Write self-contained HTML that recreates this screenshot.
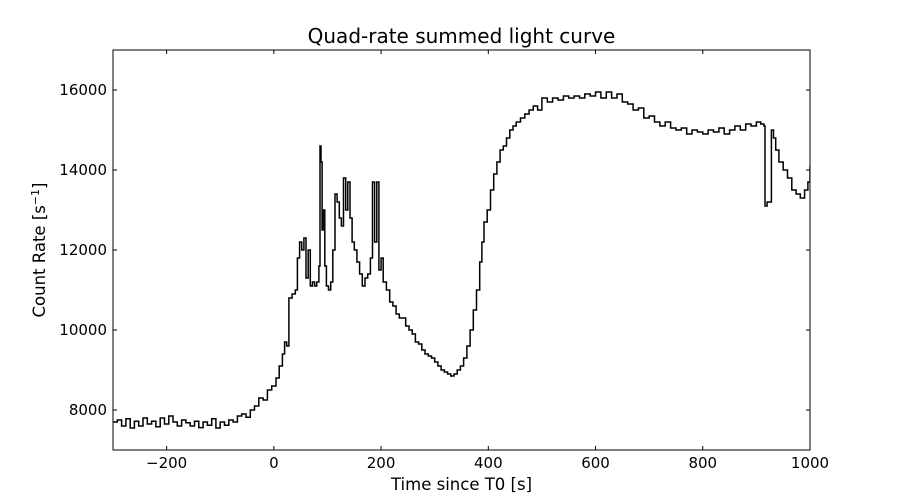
<!DOCTYPE html>
<html><head><meta charset="utf-8"><style>
body{margin:0;background:#fff}
svg{display:block;font-family:"DejaVu Sans","Liberation Sans",sans-serif}
</style></head><body>
<svg id="c" width="900" height="500"></svg>
<script>
const times=[-300,-292,-284,-276,-268,-260,-252,-244,-236,-228,-220,-212,-204,-196,-188,-180,-172,-164,-156,-148,-140,-132,-124,-116,-108,-100,-92,-84,-76,-68,-60,-52,-44,-36,-28,-20,-12,-4,4,10,16,20,24,28,34,40,44,48,52,56,60,64,68,72,76,80,84,86,88,90,92,95,98,102,106,110,114,118,122,126,130,134,138,142,146,150,155,160,165,170,175,180,184,188,192,196,200,204,210,216,222,228,234,240,246,252,258,264,270,276,282,288,294,300,306,312,318,324,330,336,342,348,354,360,366,372,378,384,388,392,398,404,410,416,422,428,434,440,446,452,460,468,476,484,492,500,510,520,530,540,550,560,570,580,590,600,610,620,630,640,650,660,670,680,690,700,710,720,730,740,750,760,770,780,790,800,810,820,830,840,850,860,870,880,890,900,908,914,916,920,926,928,932,936,942,950,958,966,974,982,990,996,1000];
const rates=[7700,7750,7600,7780,7550,7720,7600,7800,7650,7720,7580,7800,7650,7850,7700,7600,7750,7680,7600,7720,7560,7700,7620,7780,7550,7700,7620,7750,7700,7850,7900,7820,8000,8100,8300,8250,8500,8600,8800,9100,9400,9700,9600,10800,10900,11000,11800,12200,12000,12300,11300,12000,11100,11200,11100,11200,11600,14600,14200,12500,13000,11600,11100,11000,11200,12000,13400,13200,12800,12600,13800,13000,13700,12800,12200,12000,11700,11400,11100,11300,11400,11800,13700,12200,13700,11500,11800,11200,11000,10700,10600,10400,10300,10300,10100,10000,9900,9700,9650,9500,9400,9350,9300,9200,9100,9000,8950,8900,8850,8900,9000,9100,9300,9600,10000,10500,11000,11700,12200,12700,13000,13500,13900,14200,14500,14600,14800,15000,15100,15200,15300,15400,15500,15600,15500,15800,15700,15800,15750,15850,15800,15850,15800,15900,15850,15950,15800,15950,15800,15900,15700,15650,15500,15550,15300,15350,15200,15100,15200,15050,15000,15050,14900,15000,14950,14900,15000,14950,15050,14900,15000,15100,15000,15150,15100,15200,15150,15100,13100,13200,13200,15000,14800,14500,14200,14000,13800,13500,13400,13300,13500,13700,14100];
const xTicks=[-200,0,200,400,600,800,1000];
const yTicks=[8000,10000,12000,14000,16000];
const L=113,R=810,T=50,B=450,xmin=-300,xmax=1000,ymin=7000,ymax=17000;
const sx=v=>L+(v-xmin)/(xmax-xmin)*(R-L);
const sy=v=>B-(v-ymin)/(ymax-ymin)*(B-T);
const svg=document.getElementById('c');const NS='http://www.w3.org/2000/svg';
function mk(tag,attrs,txt){const e=document.createElementNS(NS,tag);for(const k in attrs)e.setAttribute(k,attrs[k]);if(txt!==undefined)e.textContent=txt;svg.appendChild(e);return e;}
let d='';
for(let i=0;i<times.length;i++){const x=sx(times[i]),y=sy(rates[i]);
 if(i===0)d+='M'+x.toFixed(1)+' '+y.toFixed(1);else d+='V'+y.toFixed(1);
 const xn=i<times.length-1?sx(times[i+1]):x;d+='H'+xn.toFixed(1);}
const line=mk('path',{d:d,fill:'none',stroke:'#000','stroke-width':1.5,'clip-path':'url(#cp)'});


const defs=document.createElementNS(NS,'defs');defs.innerHTML='<clipPath id="cp"><rect x="113" y="50" width="697" height="400"/></clipPath>';svg.insertBefore(defs,svg.firstChild);
const frame=mk('rect',{x:L,y:T,width:R-L,height:B-T,fill:'none',stroke:'#000','stroke-width':1});


xTicks.forEach(v=>{const x=sx(v);mk('line',{x1:x,x2:x,y1:B,y2:B-4,stroke:'#000'});mk('line',{x1:x,x2:x,y1:T,y2:T+4,stroke:'#000'});
 const t=mk('text',{x:x,y:468,'text-anchor':'middle','font-size':15},v<0?'\u2212'+(-v):String(v));
 
 });
yTicks.forEach(v=>{const y=sy(v);mk('line',{x1:L,x2:L+4,y1:y,y2:y,stroke:'#000'});mk('line',{x1:R,x2:R-4,y1:y,y2:y,stroke:'#000'});
 const t=mk('text',{x:107,y:y+5,'text-anchor':'end','font-size':15},String(v));
 
 });
const ti=mk('text',{x:461.5,y:43,'text-anchor':'middle','font-size':20},'Quad-rate summed light curve');


const xl=mk('text',{x:461.5,y:490,'text-anchor':'middle','font-size':16.5},'Time since T0 [s]');


const yl=mk('text',{x:0,y:0,'text-anchor':'middle','font-size':16.5,transform:'translate(45,250) rotate(-90)'});
yl.innerHTML='Count Rate [s<tspan font-size="11" dy="-6">\u22121</tspan><tspan dy="6">]</tspan>';


</script>
</body></html>
